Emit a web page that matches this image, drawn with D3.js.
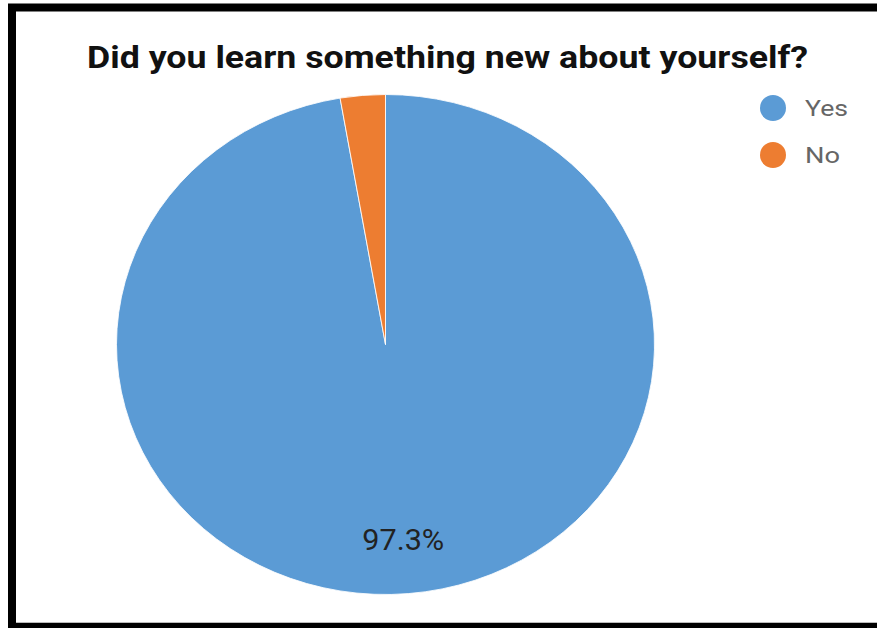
<!DOCTYPE html>
<html><head><meta charset="utf-8">
<script src="https://cdn.jsdelivr.net/npm/d3@7"></script>
<style>html,body{margin:0;padding:0;background:#fff;}svg{display:block;}</style>
</head><body>
<script>
const categories = ["Yes", "No"];
const values = [97.3, 2.7];
const labels = ["97.3%", ""];
const colors = ["#5B9BD5", "#ED7D31"];
const title = "Did you learn something new about yourself?";

const W = 877, H = 628;
const svg = d3.select("body").append("svg").attr("width", W).attr("height", H);
svg.append("rect").attr("width", W).attr("height", H).attr("fill", "#fff");

// frame
svg.append("line").attr("x1", 16).attr("x2", W).attr("y1", 622.5).attr("y2", 622.5)
  .attr("stroke", "#bbb").attr("stroke-width", 1);
svg.append("rect").attr("x", 12).attr("y", 7.5).attr("width", W + 20).attr("height", 619.5)
  .attr("fill", "none").attr("stroke", "#000").attr("stroke-width", 8);

svg.append("text").attr("x", 87).attr("y", 68)
  .attr("font-family", "Roboto, Arial, sans-serif").attr("font-weight", "bold")
  .attr("font-size", 32).attr("fill", "#111")
  .attr("textLength", 721).attr("lengthAdjust", "spacingAndGlyphs").text(title);

const cx = 385.5, cy = 344.5, R = 250, sx = 269 / 250;
const data = categories.map((c, i) => ({ cat: c, value: values[i], label: labels[i], color: colors[i] }));
const pie = d3.pie().value(d => d.value).sort(null);
const arcs = pie(data);
const arc = d3.arc().innerRadius(0).outerRadius(R);
const g = svg.append("g").attr("transform", `translate(${cx},${cy}) scale(${sx},1)`);
g.selectAll("path").data(arcs).join("path")
  .attr("d", arc).attr("fill", d => d.data.color)
  .attr("stroke", "#fff").attr("stroke-width", 0.8);

const labelArc = d3.arc().innerRadius(R * 0.78).outerRadius(R * 0.78);
svg.selectAll("text.lbl").data(arcs.filter(d => d.data.label)).join("text")
  .attr("class", "lbl")
  .attr("x", d => cx + labelArc.centroid(d)[0] * sx)
  .attr("y", d => cy + labelArc.centroid(d)[1] + 11)
  .attr("text-anchor", "middle")
  .attr("font-family", "Roboto, Arial, sans-serif").attr("font-size", 30)
  .attr("textLength", 82).attr("lengthAdjust", "spacingAndGlyphs")
  .attr("fill", "#222").text(d => d.data.label);

const legLen = [43, 35];
const leg = svg.append("g").selectAll("g").data(data).join("g")
  .attr("transform", (d, i) => `translate(773,${108 + i * 47})`);
leg.append("circle").attr("r", 13).attr("fill", d => d.color);
leg.append("text").attr("x", 32).attr("y", 8)
  .attr("font-family", "Roboto, Arial, sans-serif").attr("font-size", 22)
  .attr("textLength", (d, i) => legLen[i]).attr("lengthAdjust", "spacingAndGlyphs")
  .attr("fill", "#666").text(d => d.cat);
</script>
</body></html>
